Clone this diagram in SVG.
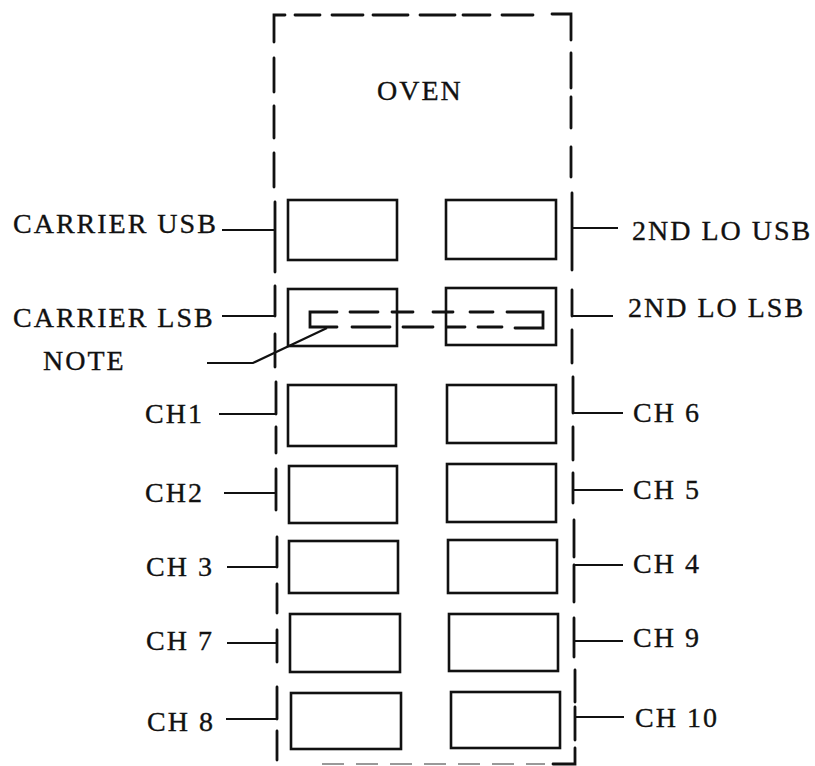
<svg xmlns="http://www.w3.org/2000/svg" width="815" height="766" viewBox="0 0 815 766">
<style>
text{font-family:"Liberation Serif","Times New Roman",serif;font-size:28px;letter-spacing:2px;fill:#111;stroke:#111;stroke-width:0.35}
.box{fill:none;stroke:#111;stroke-width:2.6}
.d{fill:none;stroke:#111;stroke-width:2.8;stroke-linecap:round;stroke-linejoin:miter}
.l{fill:none;stroke:#111;stroke-width:2.2}
.faint{fill:none;stroke:#999;stroke-width:2;stroke-dasharray:22 12}
</style>
<rect width="815" height="766" fill="#fff"/>

<g id="oven">
  <path class="d" d="M274,42 V15 H285 M295,15 H320 M332,15 H363 M373,15 H408 M420,15 H455 M463,15 H490 M502,15 H533 M552,14 H571 V40"/>
  <path class="d" d="M274,58 V92 M274,106 V138 M274,153 V187 M275,202 V272 M275,286 V316 M275,334 V367 M276,382 V414 M276,427 V453 M276,469 V510 M277,537 V567 M277,584 V613 M277,630 V662 M277,687 V719 M277,731 V760"/>
  <path class="d" d="M571,53 V88 M571,97 V128 M571,147 V177 M572,193 V270 M572,290 V316 M572,330 V363 M573,377 V413 M573,427 V460 M573,473 V503 M574,520 V557 M574,565 V602 M574,618 V657 M575,670 V702 M575,707 V740 M575,748 V764 H553"/>
  <path class="faint" d="M322,764 H545"/>
  <text x="377" y="100">OVEN</text>
</g>

<g id="carrier-usb"><rect class="box" x="288" y="200" width="109" height="60"/></g>
<g id="lo-usb"><rect class="box" x="446" y="200" width="110" height="59"/></g>
<g id="carrier-lsb"><rect class="box" x="288" y="289" width="109" height="57"/></g>
<g id="lo-lsb"><rect class="box" x="446" y="288" width="110" height="57"/></g>
<g id="ch1"><rect class="box" x="288" y="385" width="108" height="61"/></g>
<g id="ch6"><rect class="box" x="447" y="385" width="109" height="58"/></g>
<g id="ch2"><rect class="box" x="289" y="466" width="108" height="57"/></g>
<g id="ch5"><rect class="box" x="447" y="464" width="109" height="58"/></g>
<g id="ch3"><rect class="box" x="289" y="541" width="109" height="52"/></g>
<g id="ch4"><rect class="box" x="448" y="540" width="109" height="53"/></g>
<g id="ch7"><rect class="box" x="290" y="614" width="110" height="58"/></g>
<g id="ch9"><rect class="box" x="449" y="614" width="109" height="57"/></g>
<g id="ch8"><rect class="box" x="291" y="693" width="110" height="56"/></g>
<g id="ch10"><rect class="box" x="451" y="692" width="109" height="56"/></g>

<g id="note-path">
  <path class="d" d="M337,312 H310 V327 H337 M350,312 H378 M392,312 H413 M433,312 H453 M470,312 H493 M507,312 H543 V328 H515 M478,327 H502 M447,327 H465 M403,327 H433 M352,327 H390"/>
</g>

<g id="connectors">
  <path class="l" d="M222,230 H275"/>
  <path class="l" d="M222,316 H275"/>
  <path class="l" d="M207,363 H253 L327,328"/>
  <path class="l" d="M219,414 H276"/>
  <path class="l" d="M224,493 H276"/>
  <path class="l" d="M227,567 H277"/>
  <path class="l" d="M227,643 H277"/>
  <path class="l" d="M226,719 H277"/>
  <path class="l" d="M572,228 H618"/>
  <path class="l" d="M572,316 H613"/>
  <path class="l" d="M573,413 H623"/>
  <path class="l" d="M573,490 H623"/>
  <path class="l" d="M574,565 H623"/>
  <path class="l" d="M574,641 H623"/>
  <path class="l" d="M575,717 H624"/>
</g>

<g id="labels">
  <text x="13" y="233">CARRIER USB</text>
  <text x="13" y="327">CARRIER LSB</text>
  <text x="43" y="370">NOTE</text>
  <text x="145" y="423">CH1</text>
  <text x="145" y="502">CH2</text>
  <text x="146" y="576">CH 3</text>
  <text x="146" y="650">CH 7</text>
  <text x="147" y="731">CH 8</text>
  <text x="632" y="240">2ND LO USB</text>
  <text x="628" y="317">2ND LO LSB</text>
  <text x="633" y="422">CH 6</text>
  <text x="633" y="499">CH 5</text>
  <text x="633" y="573">CH 4</text>
  <text x="633" y="647">CH 9</text>
  <text x="635" y="727">CH 10</text>
</g>
</svg>
